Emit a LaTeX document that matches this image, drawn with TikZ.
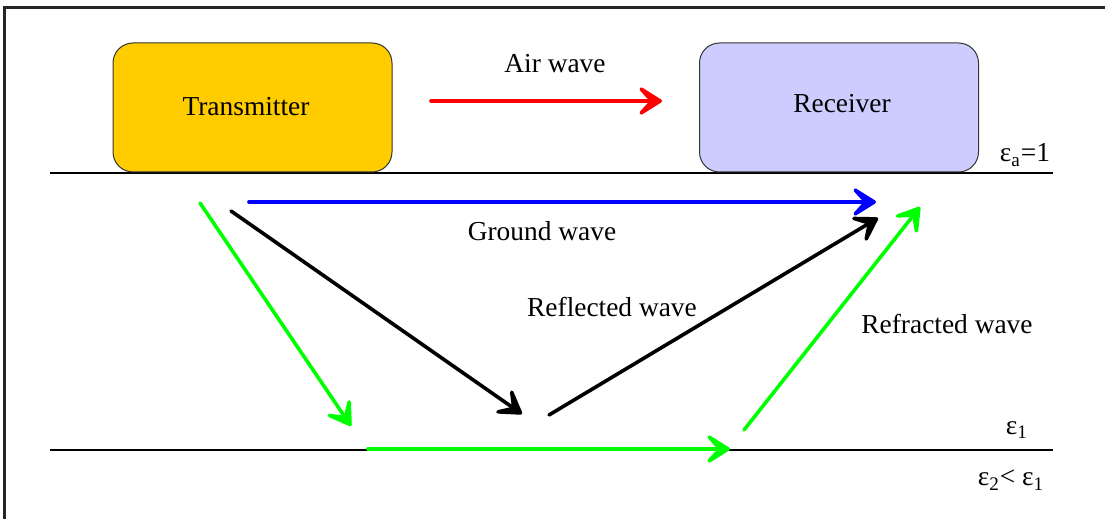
\documentclass[tikz,border=0pt]{standalone}
\usepackage{fontspec}
\setmainfont{Liberation Serif}
\newfontfamily\lserif{Liberation Serif}
\usetikzlibrary{arrows.meta}
\definecolor{txfill}{HTML}{FFCC00}
\definecolor{rxfill}{HTML}{CCCCFF}
\definecolor{wgreen}{HTML}{00FF00}
\tikzset{
  devbox/.style={draw=black!80, line width=0.5pt, rounded corners=10pt, minimum width=139.5pt, minimum height=64.5pt, inner sep=0pt},
  lbl/.style={font=\lserif\fontsize{13.7}{16}\selectfont, inner sep=0pt},
  wave/.style={line width=1.8pt, line cap=round, -{Stealth[length=16pt,width=20pt,inset=9pt,round]}},
  layer/.style={line width=0.6pt},
}
\begin{document}
\begin{tikzpicture}[x=0.5pt,y=-0.5pt]
\useasboundingbox (0,0) rectangle (1105,519);
% frame
\draw[line width=1.1pt, black!85] (4.5,519) -- (4.5,7.5) -- (1105,7.5);
% layers
\draw[layer] (50,173) coordinate (l1a) -- (1053,173) coordinate (l1b);
\draw[layer] (50,450) coordinate (l2a) -- (1053,450) coordinate (l2b);
% boxes
\node[devbox, fill=txfill] (tx) at (252.5,107.5) {};
\node[lbl] (txl) at (246,107) {Transmitter};
\node[devbox, fill=rxfill] (rx) at (839,107.5) {};
\node[lbl] (rxl) at (842,104) {Receiver};
% labels
\node[lbl] (air) at (555,64) {Air wave};
\node[lbl] (gnd) at (542,231) {Ground wave};
\node[lbl] (refl) at (612,307) {Reflected wave};
\node[lbl] (refr) at (947,324) {Refracted wave};
\node[lbl] (ea) at (1025,155) {ε\textsubscript{a}=1};
\node[lbl] (e1) at (1017,430) {ε\textsubscript{1}};
\node[lbl] (e2) at (1011,480) {ε\textsubscript{2}< ε\textsubscript{1}};
% wave coordinates
\coordinate (a1) at (431,101); \coordinate (a2) at (662,101);
\coordinate (g1) at (249,202); \coordinate (g2) at (876,202);
\coordinate (r1) at (231,211); \coordinate (r2) at (522,414);
\coordinate (r3) at (549,415); \coordinate (r4) at (878,218);
\coordinate (f1) at (200,203); \coordinate (f2) at (351,426);
\coordinate (f3) at (368,449); \coordinate (f4) at (730,449);
\coordinate (f5) at (744,430); \coordinate (f6) at (920,207);
% waves
\draw[wave, red] (a1) -- (a2);
\draw[wave, blue] (g1) -- (g2);
\draw[wave, black] (r1) -- (r2);
\draw[wave, black] (r3) -- (r4);
\draw[wave, wgreen] (f1) -- (f2);
\draw[wave, wgreen] (f3) -- (f4);
\draw[wave, wgreen] (f5) -- (f6);
\end{tikzpicture}
\end{document}
